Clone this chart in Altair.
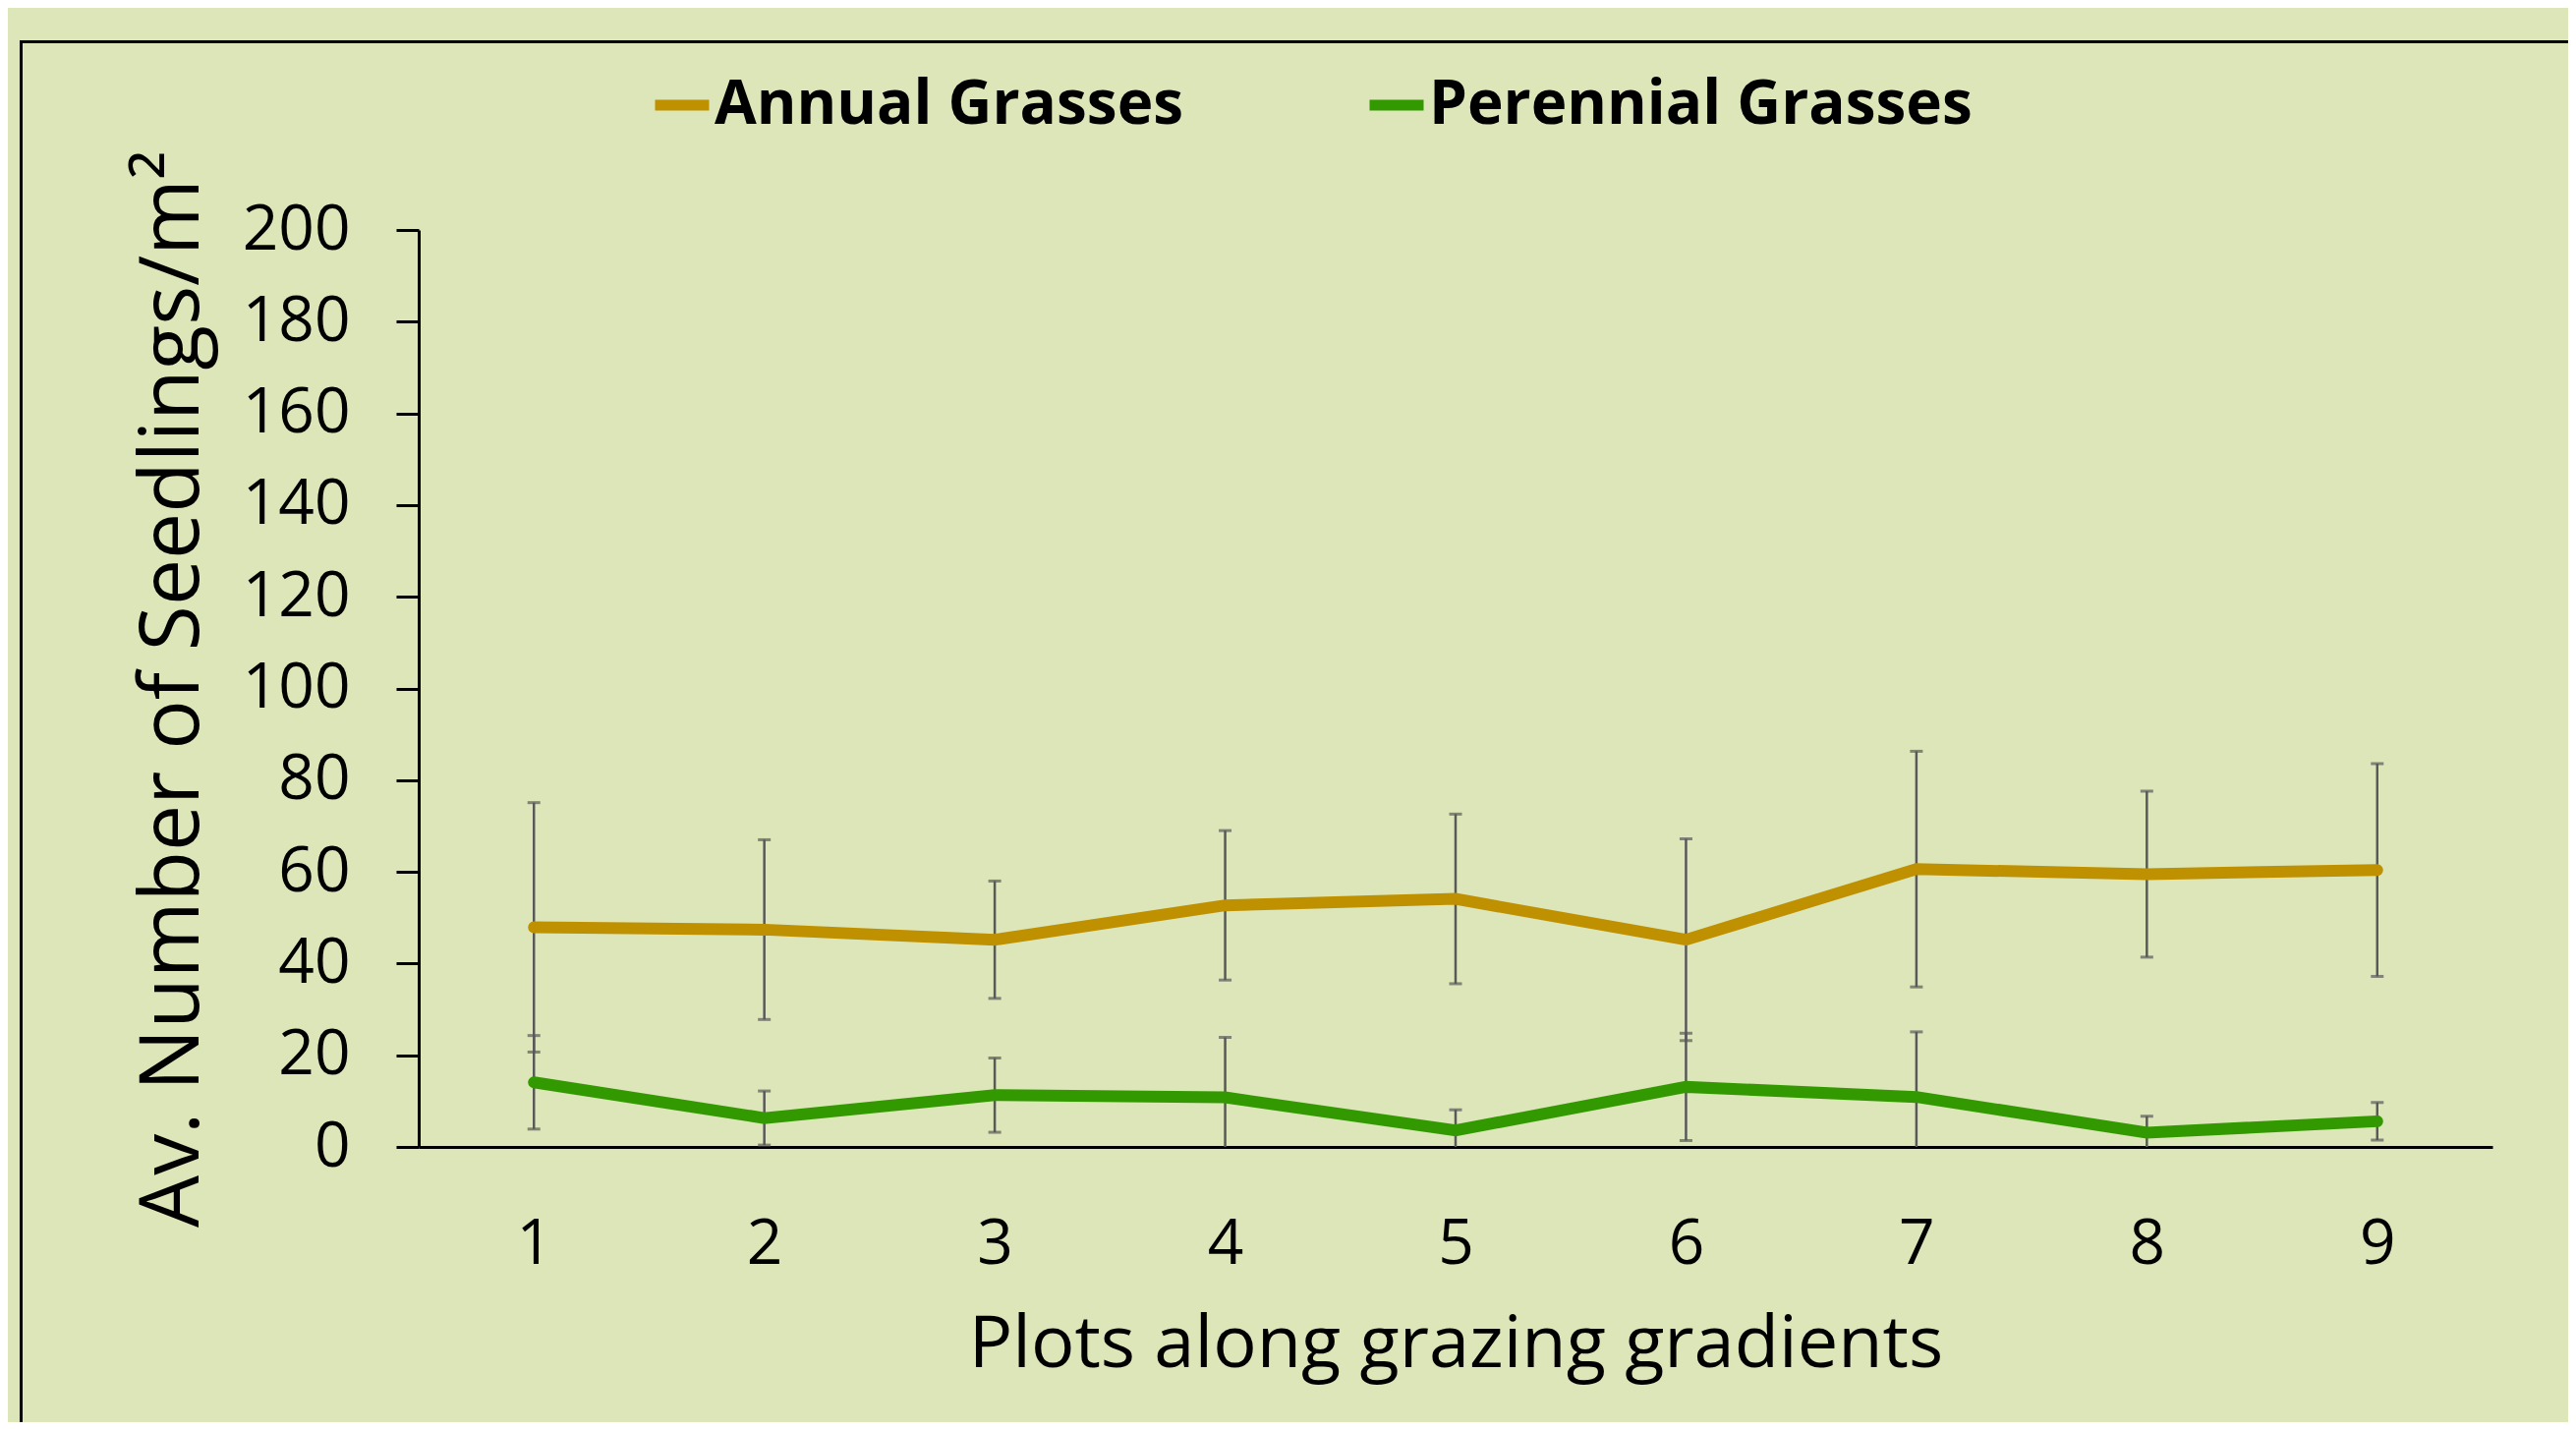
import altair as alt
import pandas as pd

# ---- data ----
plots = [1, 2, 3, 4, 5, 6, 7, 8, 9]
annual_mean = [47.9, 47.4, 45.2, 52.7, 54.1, 45.2, 60.6, 59.5, 60.4]
annual_err = [27.2, 19.6, 12.8, 16.3, 18.5, 22.0, 25.7, 18.1, 23.2]
perennial_mean = [14.1, 6.3, 11.3, 10.8, 3.6, 13.1, 10.9, 3.1, 5.6]
perennial_err = [10.2, 5.9, 8.1, 13.1, 4.5, 11.7, 14.2, 3.6, 4.1]
series_names = ["Annual Grasses", "Perennial Grasses"]
series_colors = ["#BF9000", "#339900"]
y_ticks = [0, 20, 40, 60, 80, 100, 120, 140, 160, 180, 200]

rows = []
for name, means, errs in [(series_names[0], annual_mean, annual_err),
                          (series_names[1], perennial_mean, perennial_err)]:
    for p, m, e in zip(plots, means, errs):
        rows.append({"plot": p, "series": name, "mean": m,
                     "lo": max(0.0, m - e), "hi": m + e})
df = pd.DataFrame(rows)

BG = "#DCE6B9"
FONT = "Open Sans"

x_enc = alt.X("plot:Q", scale=alt.Scale(domain=[0.5, 9.5], nice=False, zero=False),
              axis=alt.Axis(values=plots, format="d", title="Plots along grazing gradients",
                            ticks=False, grid=False, labelPadding=67,
                            titlePadding=34, titleFontSize=74))
y_scale = alt.Scale(domain=[0, 200], nice=False)

base = alt.Chart(df)

err_rule = base.mark_rule(color="#595959", strokeWidth=2.5, clip=True).encode(
    x=x_enc,
    y=alt.Y("lo:Q", scale=y_scale),
    y2="hi:Q",
)
cap_hi = base.mark_tick(color="#595959", thickness=3, size=13, orient="horizontal").encode(
    x="plot:Q", y=alt.Y("hi:Q", scale=y_scale))
cap_lo = base.transform_filter("datum.lo > 0").mark_tick(
    color="#595959", thickness=3, size=13, orient="horizontal").encode(
    x="plot:Q", y=alt.Y("lo:Q", scale=y_scale))

lines = base.mark_line(strokeWidth=12, strokeCap="round", strokeJoin="miter").encode(
    x="plot:Q",
    y=alt.Y("mean:Q", scale=y_scale,
            axis=alt.Axis(values=y_ticks, title="Av. Number of Seedlings/m²", grid=False,
                          tickSize=23, labelPadding=47, titlePadding=27,
                          titleFontSize=84)),
    color=alt.Color("series:N",
                    scale=alt.Scale(domain=series_names, range=series_colors),
                    legend=alt.Legend(title=None, orient="none", direction="horizontal",
                                      legendX=235, legendY=-160,
                                      symbolType="stroke", symbolSize=3025,
                                      symbolStrokeWidth=11, labelOffset=0,
                                      columnPadding=166,
                                      labelFont=FONT, labelFontSize=62,
                                      labelFontWeight="bold", labelColor="black",
                                      labelLimit=1000)),
)

frame_top = alt.Chart(pd.DataFrame({"k": [0]})).mark_rule(color="black", strokeWidth=3).encode(
    x=alt.value(-405), x2=alt.value(2300), y=alt.value(-191.5))
frame_left = alt.Chart(pd.DataFrame({"k": [0]})).mark_rule(color="black", strokeWidth=3).encode(
    x=alt.value(-404.5), y=alt.value(-193), y2=alt.value(1300))

chart = alt.layer(frame_top, frame_left, err_rule, cap_hi, cap_lo, lines).properties(
    width=2110, height=933,
    background=BG,
    padding={"left": 418, "top": 226, "right": 77, "bottom": 280},
    autosize=alt.AutoSizeParams(type="none"),
).configure_view(stroke=None).configure_axis(
    labelFont=FONT, titleFont=FONT, labelFontSize=64,
    labelColor="black", titleColor="black", titleFontWeight="normal",
    domainColor="black", domainWidth=3, tickColor="black", tickWidth=3,
)

chart.save("out.html", embed_options={"renderer": "svg", "actions": False})
